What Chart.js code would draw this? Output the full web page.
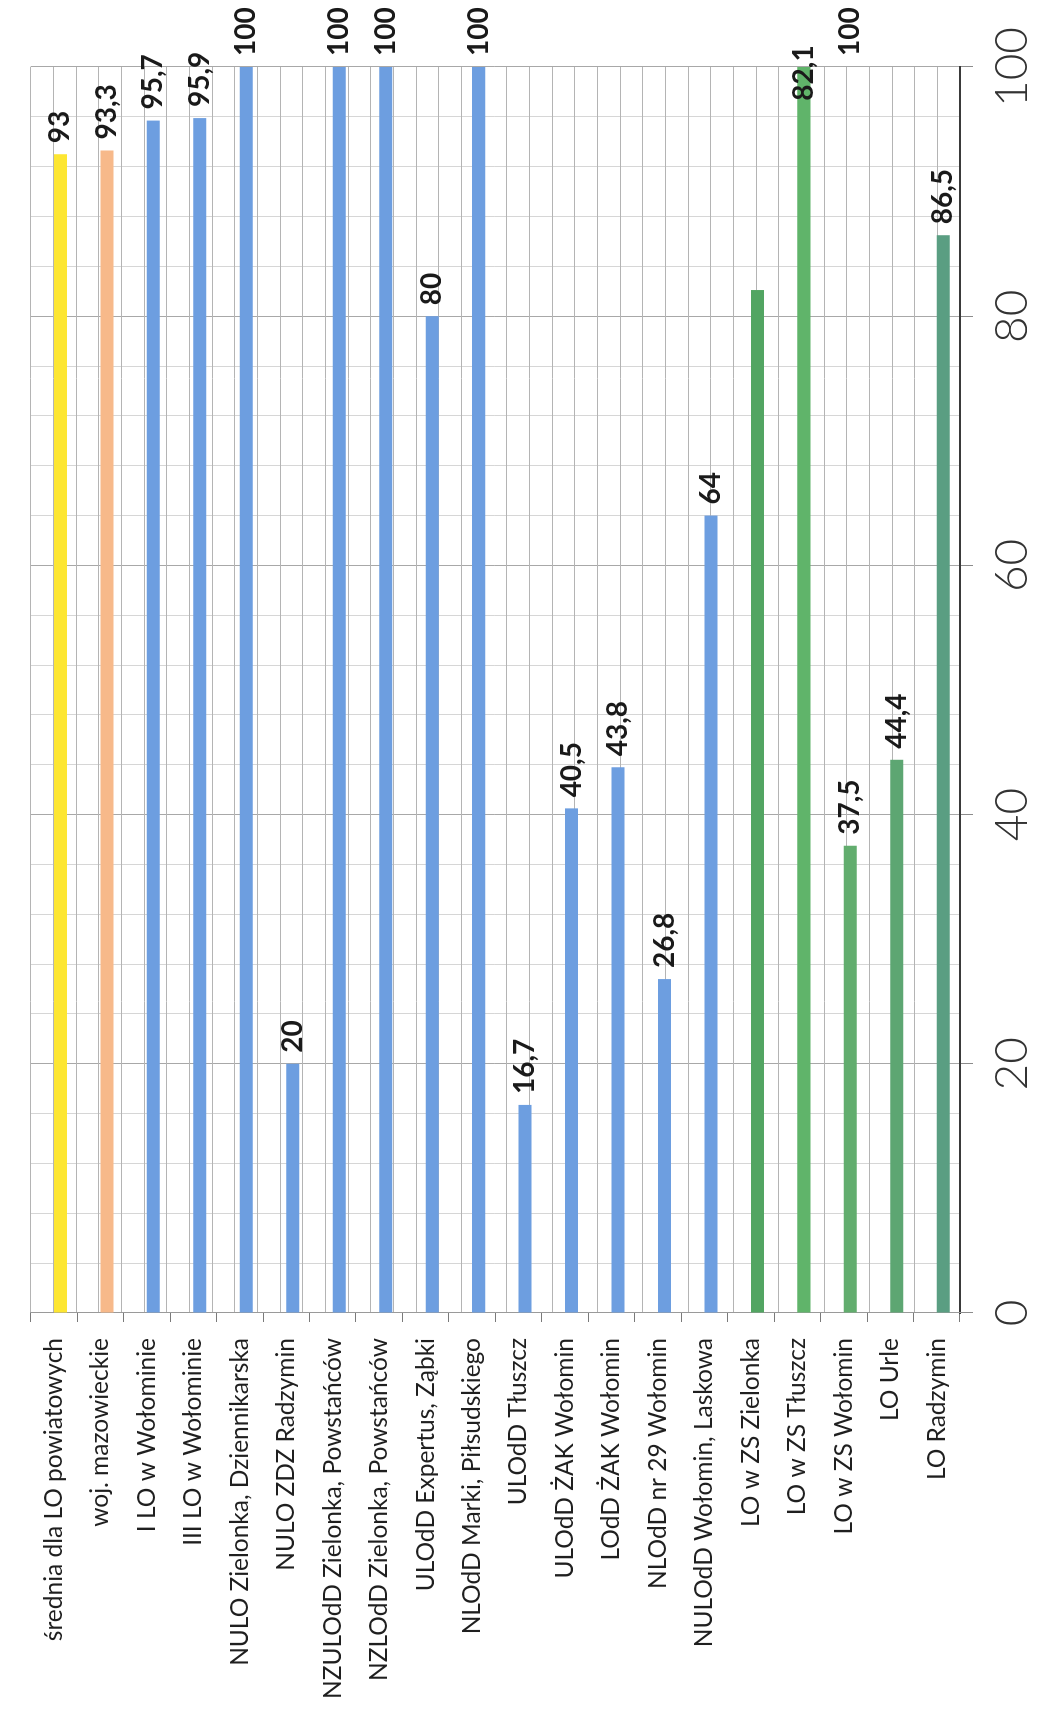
<!DOCTYPE html>
<html>
<head>
<meta charset="utf-8">
<script src="https://cdn.jsdelivr.net/npm/chart.js@4"></script>
<style>
  html, body { margin: 0; padding: 0; background: #fff; overflow: hidden; }
  body { width: 1038px; height: 1724px; position: relative; }
  /* the chart is drawn as a horizontal bar chart, then turned on its side like the scan */
  #wrap {
    position: absolute; left: 0; top: 0;
    width: 1724px; height: 1038px;
    transform-origin: 0 0;
    transform: translateY(1724px) rotate(-90deg);
  }
</style>
</head>
<body>
<div id="wrap"><canvas id="chart" width="1724" height="1038"></canvas></div>
<script>
const schools = [
  'średnia dla LO powiatowych',
  'woj. mazowieckie',
  'I LO w Wołominie',
  'III LO w Wołominie',
  'NULO Zielonka, Dziennikarska',
  'NULO ZDZ Radzymin',
  'NZULOdD Zielonka, Powstańców',
  'NZLOdD Zielonka, Powstańców',
  'ULOdD Expertus, Ząbki',
  'NLOdD Marki, Piłsudskiego',
  'ULOdD Tłuszcz',
  'ULOdD ŻAK Wołomin',
  'LOdD ŻAK Wołomin',
  'NLOdD nr 29 Wołomin',
  'NULOdD Wołomin, Laskowa',
  'LO w ZS Zielonka',
  'LO w ZS Tłuszcz',
  'LO w ZS Wołomin',
  'LO Urle',
  'LO Radzymin'
];
const results = [93, 93.3, 95.7, 95.9, 100, 20, 100, 100, 80, 100, 16.7, 40.5, 43.8, 26.8, 64, 82.1, 100, 37.5, 44.4, 86.5];
// labels as printed on the chart (one bar has none, one is printed over the bar end)
const resultLabels = ['93', '93,3', '95,7', '95,9', '100', '20', '100', '100', '80', '100', '16,7', '40,5', '43,8', '26,8', '64', '', '82,1', '37,5', '44,4', '86,5'];
const extraLabels = [{ school: 'LO w ZS Wołomin', value: 100, text: '100' }];
const valueTicks = [0, 20, 40, 60, 80, 100];

const barColors = [
  '#fde632', '#f7b98a',
  '#6d9ee0', '#6d9ee0', '#6d9ee0', '#6d9ee0', '#6d9ee0', '#6d9ee0', '#6d9ee0',
  '#6d9ee0', '#6d9ee0', '#6d9ee0', '#6d9ee0', '#6d9ee0', '#6d9ee0',
  '#52a562', '#60b46a', '#62ad6e', '#5da672', '#5a9e82'
];
const labelAlign = { 16: 'center' };

const labelFont = 'bold 28px Lato, "Noto Sans", sans-serif';

const barLabels = {
  id: 'barLabels',
  afterDatasetsDraw(chart) {
    const ctx = chart.ctx;
    const meta = chart.getDatasetMeta(1);
    const x = chart.scales.x;
    ctx.save();
    ctx.font = labelFont;
    ctx.fillStyle = '#1a1a1a';
    ctx.textBaseline = 'middle';
    meta.data.forEach((bar, i) => {
      const txt = resultLabels[i];
      if (!txt) return;
      if (labelAlign[i] === 'center') {
        ctx.textAlign = 'center';
        ctx.fillText(txt, bar.x - 6, bar.y);
      } else {
        ctx.textAlign = 'left';
        ctx.fillText(txt, bar.x + 11, bar.y);
      }
    });
    extraLabels.forEach(l => {
      const bar = meta.data[schools.indexOf(l.school)];
      ctx.textAlign = 'left';
      ctx.fillText(l.text, x.getPixelForValue(l.value) + 11, bar.y);
    });
    ctx.restore();
  }
};

new Chart(document.getElementById('chart'), {
  type: 'bar',
  data: {
    labels: schools,
    datasets: [
      { label: '', data: schools.map(() => null), backgroundColor: 'rgba(0,0,0,0)' },
      { label: 'wynik', data: results, backgroundColor: barColors, borderWidth: 0 }
    ]
  },
  options: {
    indexAxis: 'y',
    responsive: false,
    animation: false,
    devicePixelRatio: 1,
    categoryPercentage: 0.56,
    barPercentage: 1,
    layout: { padding: { left: 0, right: 67, top: 12, bottom: 0 } },
    plugins: { legend: { display: false }, tooltip: { enabled: false } },
    scales: {
      x: {
        type: 'linear',
        min: 0,
        max: 100,
        afterFit(scale) { scale.height = 78; },
        ticks: {
          stepSize: 4,
          maxTicksLimit: 1000,
          autoSkip: false,
          maxRotation: 0,
          padding: 12,
          color: '#333',
          font: { family: 'Lato, "Noto Sans", sans-serif', size: 46, weight: '300' },
          callback: v => valueTicks.includes(v) ? String(v) : ''
        },
        grid: {
          color: c => valueTicks.includes(c.tick.value) ? '#a8a8a8' : '#d6d6d6',
          tickColor: c => valueTicks.includes(c.tick.value) ? '#8c8c8c' : 'rgba(0,0,0,0)',
          tickLength: 13,
          lineWidth: 1
        },
        border: { display: true, color: '#3a3a3a', width: 2 }
      },
      y: {
        type: 'category',
        afterFit(scale) { scale.width = 411; },
        ticks: {
          autoSkip: false,
          padding: 16,
          color: '#1f1f1f',
          font: { family: 'Lato, "Noto Sans", sans-serif', size: 24.5 }
        },
        grid: {
          drawOnChartArea: false,
          offset: true,
          tickLength: 9,
          tickColor: '#7a7a7a'
        },
        border: { display: true, color: '#9a9a9a', width: 1 }
      },
      rows: {
        type: 'linear',
        position: 'right',
        axis: 'y',
        min: -0.5,
        max: 19.5,
        afterFit(scale) { scale.width = 0; },
        ticks: { display: false, stepSize: 0.5, maxTicksLimit: 1000, autoSkip: false },
        grid: { color: '#b4b4b4', drawTicks: false, lineWidth: 1 },
        border: { display: false }
      }
    }
  },
  plugins: [barLabels]
});
</script>
</body>
</html>
